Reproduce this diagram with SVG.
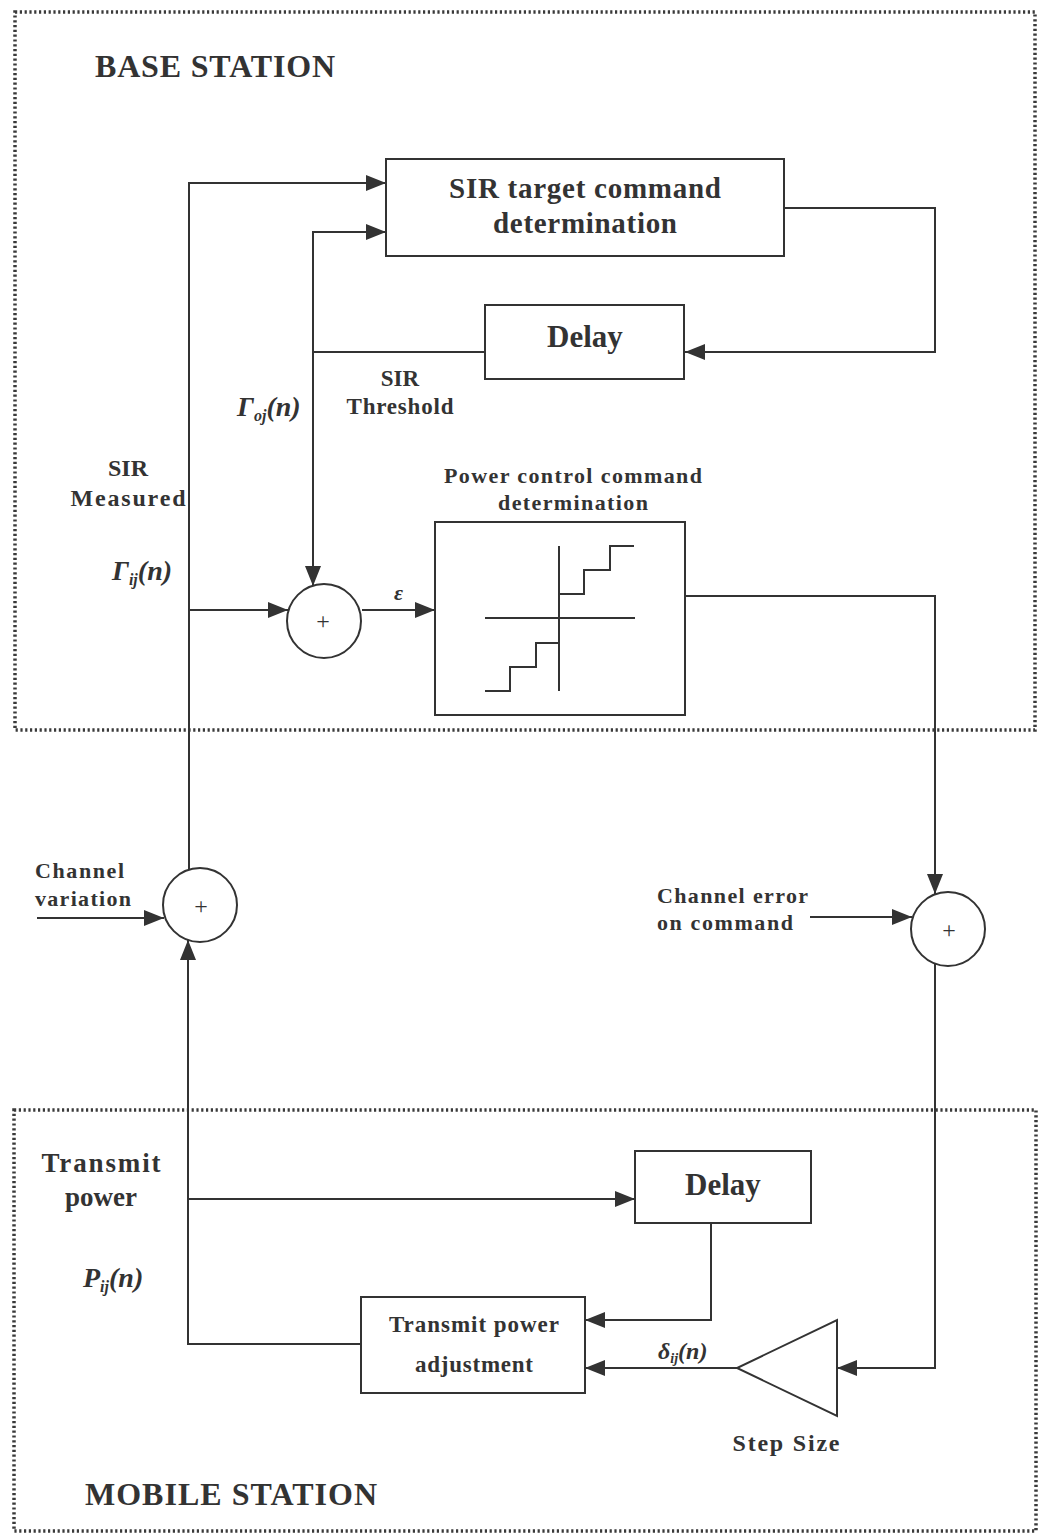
<svg xmlns="http://www.w3.org/2000/svg" width="1040" height="1534" viewBox="0 0 1040 1534">
<style>
.bg{fill:#fff}
.zone{fill:none;stroke:#3a3a3a;stroke-width:3.5;stroke-dasharray:2.2 2.6}
.box{fill:#fff;stroke:#333;stroke-width:2}
.ln{fill:none;stroke:#333;stroke-width:2}
.t{font-family:"Liberation Serif",serif;font-weight:bold;fill:#333}
.i{font-family:"Liberation Serif",serif;font-weight:bold;font-style:italic;fill:#333}
.p{font-family:"Liberation Serif",serif;fill:#333;font-size:24px}
</style>
<defs>
<marker id="ah" markerUnits="userSpaceOnUse" markerWidth="20" markerHeight="16" refX="20" refY="8" orient="auto">
<path d="M0,0 L20,8 L0,16 z" fill="#333"/>
</marker>
</defs>
<rect class="bg" x="0" y="0" width="1040" height="1534"/>

<g id="base-station">
<rect class="zone" x="15" y="12" width="1020" height="718"/>
<text class="t" x="95" y="77" font-size="32" textLength="240">BASE STATION</text>
</g>
<g id="mobile-station">
<rect class="zone" x="14" y="1110" width="1022" height="421"/>
<text class="t" x="85" y="1505" font-size="32" textLength="292">MOBILE STATION</text>
</g>

<g id="connectors">
<path class="ln" d="M189,870 L189,183 L386,183" marker-end="url(#ah)"/>
<path class="ln" d="M189,610 L288,610" marker-end="url(#ah)"/>
<path class="ln" d="M362,610 L435,610" marker-end="url(#ah)"/>
<path class="ln" d="M313,352 L313,232 L386,232" marker-end="url(#ah)"/>
<path class="ln" d="M485,352 L313,352 L313,586" marker-end="url(#ah)"/>
<path class="ln" d="M784,208 L935,208 L935,352 L685,352" marker-end="url(#ah)"/>
<path class="ln" d="M685,596 L935,596 L935,894" marker-end="url(#ah)"/>
<path class="ln" d="M810,917 L912,917" marker-end="url(#ah)"/>
<path class="ln" d="M935,964 L935,1368 L837,1368" marker-end="url(#ah)"/>
<path class="ln" d="M737,1368 L585,1368" marker-end="url(#ah)"/>
<path class="ln" d="M711,1223 L711,1320 L585,1320" marker-end="url(#ah)"/>
<path class="ln" d="M361,1344 L188,1344 L188,940" marker-end="url(#ah)"/>
<path class="ln" d="M188,1199 L635,1199" marker-end="url(#ah)"/>
<path class="ln" d="M37,918 L164,918" marker-end="url(#ah)"/>
</g>

<g id="sir-target">
<rect class="box" x="386" y="159" width="398" height="97"/>
<text class="t" x="585" y="198" font-size="29" text-anchor="middle" textLength="272">SIR target command</text>
<text class="t" x="585" y="233" font-size="29" text-anchor="middle" textLength="184">determination</text>
</g>

<g id="delay-bs">
<rect class="box" x="485" y="305" width="199" height="74"/>
<text class="t" x="585" y="347" font-size="31" text-anchor="middle">Delay</text>
</g>

<g id="sum-bs">
<circle class="box" cx="324" cy="621" r="37"/>
<text class="p" x="323" y="629" text-anchor="middle">+</text>
</g>

<g id="power-control">
<text class="t" x="573" y="483" font-size="22" text-anchor="middle" textLength="258">Power control command</text>
<text class="t" x="573" y="510" font-size="22" text-anchor="middle" textLength="150">determination</text>
<rect class="box" x="435" y="522" width="250" height="193"/>
<path class="ln" d="M559,546 L559,691 M485,618 L635,618 M559,594 L584,594 L584,570 L610,570 L610,546 L634,546 M485,691 L510,691 L510,667 L536,667 L536,643 L559,643"/>
</g>

<g id="sum-channel">
<circle class="box" cx="200" cy="905" r="37"/>
<text class="p" x="201" y="914" text-anchor="middle">+</text>
</g>

<g id="sum-error">
<circle class="box" cx="948" cy="929" r="37"/>
<text class="p" x="949" y="938" text-anchor="middle">+</text>
</g>

<g id="delay-ms">
<rect class="box" x="635" y="1151" width="176" height="72"/>
<text class="t" x="723" y="1195" font-size="31" text-anchor="middle">Delay</text>
</g>

<g id="tpa">
<rect class="box" x="361" y="1297" width="224" height="96"/>
<text class="t" x="474" y="1332" font-size="23" text-anchor="middle" textLength="170">Transmit power</text>
<text class="t" x="474" y="1372" font-size="23" text-anchor="middle" textLength="118">adjustment</text>
</g>

<g id="step-size">
<polygon class="box" points="837,1320 837,1416 737,1368"/>
<text class="t" x="786" y="1451" font-size="24" text-anchor="middle" textLength="107">Step Size</text>
</g>

<g id="labels">
<text class="t" x="400" y="386" font-size="23" text-anchor="middle">SIR</text>
<text class="t" x="400" y="414" font-size="23" text-anchor="middle" textLength="107">Threshold</text>
<text class="i" x="237" y="416" font-size="28">Γ<tspan font-size="16" dy="5">oj</tspan><tspan dy="-5">(n)</tspan></text>
<text class="t" x="128" y="476" font-size="24" text-anchor="middle">SIR</text>
<text class="t" x="128" y="506" font-size="24" text-anchor="middle" textLength="115">Measured</text>
<text class="i" x="112" y="580" font-size="28">Γ<tspan font-size="16" dy="5">ij</tspan><tspan dy="-5">(n)</tspan></text>
<text class="i" x="394" y="600" font-size="22" font-weight="normal">ε</text>
<text class="t" x="35" y="878" font-size="22" textLength="89">Channel</text>
<text class="t" x="35" y="906" font-size="22" textLength="96">variation</text>
<text class="t" x="657" y="903" font-size="22" textLength="151">Channel error</text>
<text class="t" x="657" y="930" font-size="22" textLength="136">on command</text>
<text class="t" x="101" y="1172" font-size="27" text-anchor="middle" textLength="119">Transmit</text>
<text class="t" x="101" y="1206" font-size="27" text-anchor="middle">power</text>
<text class="i" x="83" y="1287" font-size="28">P<tspan font-size="16" dy="5">ij</tspan><tspan dy="-5">(n)</tspan></text>
<text class="i" x="658" y="1359" font-size="24" font-weight="normal">δ<tspan font-size="14" dy="4">ij</tspan><tspan dy="-4" font-weight="bold">(n)</tspan></text>
</g>
</svg>
